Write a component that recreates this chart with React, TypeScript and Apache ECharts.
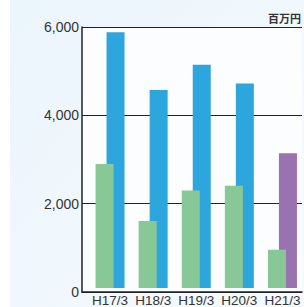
import React, { useEffect, useRef } from "react";
import * as echarts from "echarts";

const categories = ["H17/3", "H18/3", "H19/3", "H20/3", "H21/3"];
const greenValues = [2850, 1540, 2240, 2350, 880];
const rightValues = [5880, 4550, 5130, 4700, 3100];
const rightColors = ["#2ca6dc", "#2ca6dc", "#2ca6dc", "#2ca6dc", "#9a72b0"];
const yTicks = [0, 2000, 4000, 6000];
const unitLabel = "百万円";

export default function App() {
  const ref = useRef<HTMLDivElement>(null);
  useEffect(() => {
    document.body.style.margin = "0";
    const chart = echarts.init(ref.current!, null, { renderer: "svg" });
    const font = "'Liberation Sans', Arial, sans-serif";
    chart.setOption({
      animation: false,
      backgroundColor: "#ffffff",
      graphic: [
        {
          type: "rect",
          shape: { x: 10, y: 0, width: 294, height: 307 },
          silent: true,
          z: -10,
          style: {
            fill: new echarts.graphic.LinearGradient(0, 0, 1, 1, [
              { offset: 0, color: "#ebf5fc" },
              { offset: 1, color: "#f6fafe" },
            ]),
          },
        },
        {
          type: "text",
          right: 3,
          top: 12,
          style: {
            text: unitLabel,
            fontSize: 11,
            fontWeight: "bold",
            fill: "#333",
            fontFamily: "'Noto Sans CJK JP', sans-serif",
          },
        },
      ],
      grid: [
        { left: 82, top: 27, width: 220, height: 265, show: true, backgroundColor: "#fbfdff", borderWidth: 0 },
        { left: 88.5, top: 27, width: 220, height: 265 },
      ],
      xAxis: [
        {
          type: "category",
          gridIndex: 0,
          data: categories,
          axisLine: { show: true, lineStyle: { color: "#222", width: 1.5 } },
          axisTick: { show: false },
          axisLabel: { show: false },
        },
        {
          type: "category",
          gridIndex: 1,
          data: categories,
          axisLine: { show: false },
          axisTick: { show: false },
          axisLabel: { color: "#333", fontSize: 13.5, fontFamily: font, margin: 5, interval: 0, hideOverlap: false },
        },
      ],
      yAxis: [
        {
          type: "value",
          gridIndex: 0,
          min: yTicks[0],
          max: yTicks[yTicks.length - 1],
          interval: 2000,
          axisLine: { show: true, lineStyle: { color: "#222", width: 1.5 } },
          axisTick: { show: false },
          axisLabel: {
            color: "#333",
            fontSize: 14,
            fontFamily: font,
            margin: 3,
            formatter: (v: number) => v.toLocaleString("en-US"),
          },
          splitLine: { show: true, lineStyle: { color: "#222", width: 1.2 } },
        },
        {
          type: "value",
          gridIndex: 1,
          min: yTicks[0],
          max: yTicks[yTicks.length - 1],
          interval: 2000,
          show: false,
          splitLine: { show: false },
        },
      ],
      series: [
        {
          type: "bar",
          xAxisIndex: 1,
          yAxisIndex: 1,
          data: greenValues,
          barWidth: 18,
          barGap: "-39%",
          itemStyle: { color: "#88c897" },
          z: 5,
        },
        {
          type: "bar",
          xAxisIndex: 1,
          yAxisIndex: 1,
          data: rightValues.map((v, i) => ({ value: v, itemStyle: { color: rightColors[i] } })),
          barWidth: 18,
          barGap: "-39%",
          z: 3,
        },
      ],
    });
    return () => chart.dispose();
  }, []);
  return <div ref={ref} style={{ width: 304, height: 307 }} />;
}
